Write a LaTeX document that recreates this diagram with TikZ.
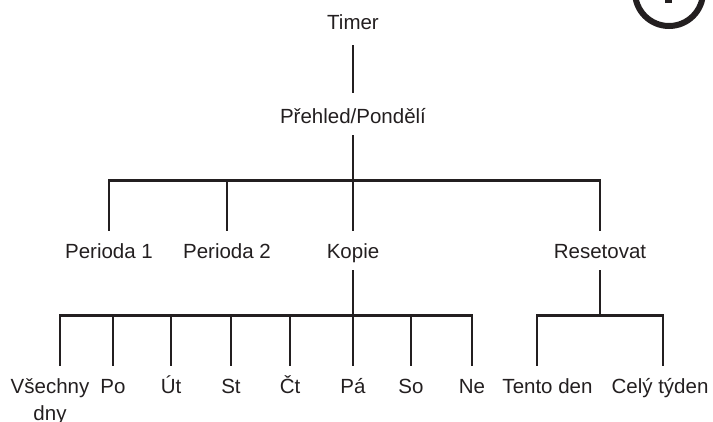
\documentclass[tikz,border=0pt]{standalone}
\usepackage{fontspec}
\setmainfont{Liberation Sans}
\usetikzlibrary{calc}
\definecolor{inkgray}{RGB}{35,31,32}
\tikzset{
  entry/.style={anchor=base, inner sep=0pt, inner ysep=8pt, text height=19pt, text depth=4pt,
    font=\fontsize{20.5}{24}\selectfont, text=inkgray},
  branch/.style={draw=inkgray, line width=2.8pt}
}

\begin{document}
\begin{tikzpicture}[x=1pt, y=-1pt]
  \useasboundingbox (0,0) rectangle (713,421);
  % badge cut by the top edge
  \begin{scope}
    \clip (0,0) rectangle (713,421);
    \draw[inkgray, line width=6pt] (669,-8) circle (34pt);
    \fill[inkgray] (665,-5) rectangle (672,3);
  \end{scope}

  % menu entries
  \node[entry] (timer) at (353,29) {Timer};
  \node[entry] (preh) at (353,123) {Přehled/Pondělí};
  \foreach \n/\x/\t in {p1/109/Perioda 1, p2/227/Perioda 2, kopie/353/Kopie, reset/600/Resetovat}
    \node[entry] (\n) at (\x,258) {\t};
  \foreach \n/\x/\t in {vse/50/Všechny, po/113/Po, ut/171/Út, st/231/St, ct/290/Čt,
      pa/353/Pá, so/411/So, ne/472/Ne, ten/547.5/Tento den, cely/660/Celý týden}
    \node[entry] (\n) at (\x,393) {\t};
  \node[entry] (dny) at (50,420) {dny};

  % branches
  \draw[branch, shorten <=4pt, shorten >=3pt] (timer) -- (preh);
  \coordinate (mbar) at ($(preh.south)+(0,45.5)$);
  \draw[branch] (preh) -- (mbar);
  \foreach \n in {p1,p2,kopie,reset}
    \draw[branch] (\n.north) |- (mbar);

  \coordinate (kbar) at ($(kopie.south)+(0,45.5)$);
  \draw[branch] (kopie) -- (kbar);
  \foreach \n/\s in {vse/10, po/0, ut/0, st/0, ct/0, pa/0, so/0, ne/0}
    \draw[branch] ([xshift=\s pt]\n.north) |- (kbar);

  \coordinate (rbar) at ($(reset.south)+(0,45.5)$);
  \draw[branch] (reset) -- (rbar);
  \draw[branch] ([xshift=-10.5pt]ten.north) |- (rbar);
  \draw[branch] ([xshift=3pt]cely.north) |- (rbar);
\end{tikzpicture}
\end{document}
